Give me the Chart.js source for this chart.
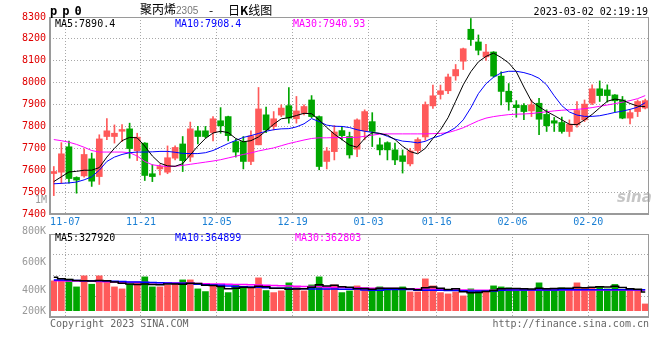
<!DOCTYPE html>
<html><head><meta charset="utf-8">
<script src="https://cdn.jsdelivr.net/npm/chart.js@4.4.0/dist/chart.umd.min.js"></script>
<style>
html,body{margin:0;padding:0;background:#fff;}
#wrap{position:relative;width:660px;height:360px;overflow:hidden;background:#fff;}
canvas{position:absolute;left:0;}
.t{position:absolute;white-space:nowrap;font-family:"DejaVu Sans Mono",monospace;font-size:10px;line-height:12px;color:#000;}
</style></head><body>
<div id="wrap">
<canvas id="pc" width="660" height="228" style="top:0"></canvas>
<canvas id="vc" width="660" height="100" style="top:226px"></canvas>
</div>
<script>
// ---------------- data ----------------
const dates = ["11-03","11-04","11-07","11-08","11-09","11-10","11-11","11-14","11-15","11-16","11-17","11-18","11-21","11-22","11-23","11-24","11-25","11-28","11-29","11-30","12-01","12-02","12-05","12-06","12-07","12-08","12-09","12-12","12-13","12-14","12-15","12-16","12-19","12-20","12-21","12-22","12-23","12-26","12-27","12-28","12-29","12-30","01-03","01-04","01-05","01-06","01-09","01-10","01-11","01-12","01-13","01-16","01-17","01-18","01-19","01-20","01-30","01-31","02-01","02-02","02-03","02-06","02-07","02-08","02-09","02-10","02-13","02-14","02-15","02-16","02-17","02-20","02-21","02-22","02-23","02-24","02-27","02-28","03-01"];
const axisLabels = ["11-07","11-21","12-05","12-19","01-03","01-16","02-06","02-20"];

const open = [7585,7591,7707,7567,7574,7652,7571,7754,7754,7778, 7789,7689,7724,7584,7606,7591,7655,7720,7660,7780, 7780,7772,7826,7845,7731,7731,7640,7716,7853,7800, 7852,7895,7835,7860,7921,7845,7640,7685,7781,7754, 7696,7780,7822,7716,7726,7693,7666,7629,7690,7752, 7894,7946,7963,8031,8098,8244,8186,8118,8140,8030, 7961,7898,7896,7871,7906,7855,7826,7818,7777,7807, 7830,7906,7972,7967,7944,7921,7838,7868,7884];
const close = [7594,7675,7562,7555,7672,7550,7743,7780,7769,7786, 7699,7751,7576,7571,7617,7657,7704,7644,7789,7754, 7754,7835,7803,7758,7683,7640,7757,7880,7784,7835, 7884,7838,7871,7891,7845,7617,7688,7775,7758,7670, 7830,7868,7777,7693,7693,7647,7640,7688,7740,7900, 7940,7963,8026,8060,8155,8197,8148,8140,8030,7960, 7912,7886,7868,7899,7833,7803,7815,7777,7810,7873, 7902,7972,7941,7941,7917,7838,7863,7914,7918];
const high = [7617,7726,7733,7570,7698,7678,7762,7836,7807,7808, 7815,7769,7726,7625,7626,7711,7711,7754,7820,7800, 7800,7845,7886,7847,7742,7754,7780,7978,7888,7868, 7899,7978,7937,7899,7941,7848,7704,7804,7800,7774, 7835,7876,7863,7747,7730,7724,7693,7700,7748,7912, 7989,7989,8039,8083,8158,8293,8218,8175,8142,8050, 7996,7918,7905,7921,7929,7876,7841,7843,7830,7914, 7921,7990,8008,7990,7946,7937,7876,7921,7925];
const low = [7484,7539,7541,7495,7568,7526,7535,7740,7724,7730, 7655,7644,7553,7548,7579,7584,7647,7594,7640,7720, 7747,7734,7769,7734,7660,7606,7625,7716,7772,7784, 7845,7815,7815,7853,7840,7602,7606,7647,7739,7655, 7662,7739,7708,7670,7647,7625,7587,7620,7680,7737, 7882,7925,7950,8011,8060,8170,8127,8102,8025,7898, 7874,7842,7831,7845,7762,7777,7777,7769,7754,7797, 7822,7899,7914,7911,7868,7835,7812,7845,7880];

const ma5 = [7548,7570,7592,7595,7600,7600,7612,7660,7700,7735, 7750,7748,7710,7665,7632,7620,7618,7630,7670,7710, 7745,7770,7778,7772,7745,7730,7735,7752,7780,7810, 7835,7840,7850,7860,7858,7830,7795,7765,7740,7715, 7705,7745,7772,7768,7760,7740,7710,7685,7675,7700, 7745,7785,7840,7915,7990,8050,8095,8120,8135,8115, 8090,8050,7980,7915,7890,7868,7850,7830,7810,7808, 7830,7855,7885,7915,7925,7920,7905,7893,7890.4];
const ma10 = [7538,7540,7542,7546,7556,7570,7600,7640,7660,7672, 7680,7683,7683,7684,7686,7686,7682,7677,7676,7676, 7680,7690,7706,7722,7736,7750,7758,7768,7778,7785, 7789,7790,7798,7812,7836,7822,7806,7801,7800,7795, 7785,7778,7773,7768,7755,7742,7733,7730,7725,7732, 7748,7758,7775,7795,7830,7885,7950,7995,8025,8045, 8052,8052,8046,8036,8020,7990,7940,7895,7866,7852, 7846,7846,7849,7856,7864,7870,7878,7888,7908.4];
const ma30 = [7740,7735,7728,7718,7705,7690,7683,7683,7683,7683, 7680,7665,7640,7625,7620,7617,7618,7622,7627,7632, 7637,7642,7648,7656,7664,7672,7679,7688,7695,7702, 7712,7722,7730,7738,7745,7748,7748,7749,7749,7750, 7750,7755,7760,7765,7766,7766,7766,7766,7766,7766, 7767,7768,7772,7782,7794,7810,7826,7838,7845,7850, 7854,7856,7857,7859,7863,7867,7871,7874,7876,7878, 7881,7886,7892,7898,7904,7911,7918,7927,7940.93];

const volume = [523000,523000,552000,417000,611000,464000,611000,523000,417000,382000, 464000,505000,593000,417000,417000,446000,470000,540000,540000,382000, 335000,435000,446000,317000,446000,411000,405000,576000,353000,317000, 347000,488000,405000,347000,452000,593000,380000,452000,317000,347000, 435000,394000,364000,417000,382000,382000,417000,329000,329000,558000, 435000,317000,294000,329000,259000,382000,347000,347000,435000,417000, 400000,347000,364000,364000,488000,364000,364000,400000,364000,488000, 400000,400000,417000,382000,460000,370000,355000,355000,118000];
const vma5 = [585000,560000,545000,530000,525000,520000,530000,525000,505000,480000, 470000,460000,470000,460000,455000,470000,470000,465000,480000,475000, 445000,440000,425000,385000,395000,410000,405000,430000,420000,395000, 395000,375000,380000,385000,410000,455000,435000,445000,420000,410000, 390000,390000,375000,395000,395000,395000,390000,380000,365000,400000, 415000,395000,370000,385000,330000,315000,320000,335000,355000,385000, 390000,390000,385000,380000,395000,385000,390000,395000,395000,405000, 400000,410000,420000,415000,430000,405000,385000,375000,327920];
const vma10 = [540000,540000,538000,530000,525000,523000,523000,520000,515000,510000, 505000,505000,500000,495000,490000,485000,480000,480000,475000,465000, 455000,450000,445000,435000,425000,420000,415000,410000,400000,395000, 392000,390000,388000,385000,380000,380000,378000,378000,376000,376000, 378000,362000,360000,358000,372000,372000,372000,370000,360000,358000, 358000,358000,355000,352000,348000,347000,347000,347000,347000,360000, 362000,364000,364000,364000,364000,364000,364000,365000,366000,366000, 366000,365000,365000,365000,365000,365000,365000,365000,364899];
const vma30 = [525000,524000,522000,520000,518000,515000,512000,508000,504000,500000, 498000,496000,494000,492000,490000,487000,484000,482000,480000,477000, 474000,470000,467000,464000,461000,458000,455000,450000,446000,442000, 438000,434000,430000,426000,422000,418000,412000,408000,405000,402000, 400000,398000,395000,392000,390000,388000,386000,384000,380000,376000, 372000,369000,366000,364000,362000,360000,359000,359000,360000,360000, 361000,361000,362000,362000,362000,362000,362000,362000,362000,362000, 362000,362000,362000,362000,362000,363000,363000,363000,362803];
const volLabels = ["800K","600K","400K","200K"];

// ---------------- styling ----------------
const RED = '#ff5a5a', GREEN = '#00a600';
const MONO = '"DejaVu Sans Mono", monospace';
const candleColor = close.map((c, i) => c >= open[i] ? RED : GREEN);
const bodies = open.map((o, i) => [o, close[i]]);
const wicks = low.map((l, i) => [l, high[i]]);
const gridColor = ctx => (ctx.index < dates.length && axisLabels.includes(dates[ctx.index])) ? '#a8a8a8' : 'rgba(0,0,0,0)';

const frame = {
  id: 'frame',
  afterDraw(chart) {
    const {ctx, chartArea: a} = chart;
    ctx.save();
    ctx.strokeStyle = '#9a9a9a';
    ctx.lineWidth = 1;
    ctx.strokeRect(a.left + 0.5, a.top + 0.5, a.right - a.left - 1, a.bottom - a.top - 1);
    ctx.lineWidth = 2;
    ctx.beginPath();
    ctx.moveTo(a.left, a.top);
    ctx.lineTo(a.left, a.bottom);
    ctx.lineTo(a.right, a.bottom);
    ctx.stroke();
    ctx.restore();
  }
};

function lineDs(data, color, extra) {
  return Object.assign({type: 'line', data, borderColor: color, borderWidth: 1, pointRadius: 0, tension: 0, order: 0}, extra || {});
}

new Chart(document.getElementById('pc'), {
  type: 'bar',
  data: {
    labels: dates,
    datasets: [
      lineDs(ma5, '#000000'),
      lineDs(ma10, '#0000ff'),
      lineDs(ma30, '#ff00ff'),
      {label: 'body', data: bodies, backgroundColor: candleColor, barThickness: 6, grouped: false, minBarLength: 1, order: 1},
      {label: 'wick', data: wicks, backgroundColor: candleColor, barThickness: 1, grouped: false, order: 2}
    ]
  },
  options: {
    responsive: false, animation: false, devicePixelRatio: 1,
    layout: {padding: {left: 0, right: 11, top: 17, bottom: 0}},
    plugins: {legend: {display: false}, tooltip: {enabled: false}},
    scales: {
      x: {
        type: 'category', offset: true,
        grid: {offset: true, color: gridColor, drawTicks: false, lineWidth: 1},
        border: {display: false, dash: [1, 2]},
        ticks: {autoSkip: false, maxRotation: 0, minRotation: 0, labelOffset: -3.79, padding: 2,
          color: '#1a7fd4', font: {family: MONO, size: 10},
          callback: (v, i) => axisLabels.includes(dates[i]) ? dates[i] : ''},
        afterFit: s => { s.height = 14; }
      },
      y: {
        min: 7400, max: 8300,
        ticks: {stepSize: 100, color: '#e00000', font: {family: MONO, size: 10}, padding: 4, callback: v => String(v)},
        grid: {color: '#a8a8a8', drawTicks: false},
        border: {display: false, dash: [1, 2]},
        afterFit: s => { s.width = 50; }
      }
    }
  },
  plugins: [frame]
});

new Chart(document.getElementById('vc'), {
  type: 'bar',
  data: {
    labels: dates,
    datasets: [
      lineDs(vma5, '#000000', {stepped: 'middle', borderWidth: 1.5}),
      lineDs(vma10, '#0000ff', {stepped: 'middle', borderWidth: 1.5}),
      lineDs(vma30, '#ff00ff', {stepped: 'middle', borderWidth: 1.5}),
      {label: 'vol', data: volume, backgroundColor: candleColor, barThickness: 6, order: 1}
    ]
  },
  options: {
    responsive: false, animation: false, devicePixelRatio: 1,
    layout: {padding: {left: 0, right: 11, top: 8, bottom: 9}},
    plugins: {legend: {display: false}, tooltip: {enabled: false}},
    scales: {
      x: {
        type: 'category', offset: true,
        grid: {offset: true, color: gridColor, drawTicks: false},
        border: {display: false, dash: [1, 2]},
        ticks: {display: false},
        afterFit: s => { s.height = 0; }
      },
      y: {
        min: -111000, max: 1345000,
        afterBuildTicks: s => { const q = (s.max - s.min) / 4; s.ticks = [0,1,2,3,4].map(k => ({value: s.min + k * q})); },
        ticks: {display: false},
        grid: {color: '#a8a8a8', drawTicks: false},
        border: {display: false, dash: [1, 2]},
        afterFit: s => { s.width = 50; }
      }
    }
  },
  plugins: [frame]
});

// ---------------- text ----------------
const wrap = document.getElementById('wrap');
function txt(s, x, y, o) {
  o = o || {};
  const d = document.createElement('div');
  d.className = 't';
  if (o.html) d.innerHTML = s; else d.textContent = s;
  d.style.left = x + 'px';
  d.style.top = y + 'px';
  d.style.transform = o.align === 'right' ? 'translate(-100%,-50%)' : 'translateY(-50%)';
  if (o.color) d.style.color = o.color;
  if (o.font) d.style.fontFamily = o.font;
  if (o.size) d.style.fontSize = o.size + 'px';
  if (o.weight) d.style.fontWeight = o.weight;
  if (o.ls) d.style.letterSpacing = o.ls + 'px';
  if (o.fstyle) d.style.fontStyle = o.fstyle;
  wrap.appendChild(d);
  return d;
}
const last = a => a[a.length - 1];
txt('pp0', 50, 11, {weight: 'bold', size: 12, ls: 5});
txt('聚丙烯<span style="font-family:\'Liberation Sans\';font-size:10px;color:#777">2305</span>', 140, 10, {html: true, font: '"Noto Sans CJK SC"', size: 12});
txt('-', 209, 10, {font: '"Noto Sans CJK SC"', size: 12});
txt('日<b>K</b>线图', 228, 10, {html: true, font: '"Noto Sans CJK SC"', size: 12});
txt('2023-03-02 02:19:19', 648, 12, {align: 'right'});
txt('MA5:' + last(ma5), 55, 24);
txt('MA10:' + last(ma10), 175, 24, {color: '#0000ff'});
txt('MA30:' + last(ma30), 293, 24, {color: '#ff00ff'});
txt('1M', 47, 200, {align: 'right', color: '#999'});
txt('sina', 617, 197, {font: '"DejaVu Sans"', size: 15, weight: 'bold', fstyle: 'italic', color: 'rgba(150,150,150,0.55)'});
txt('MA5:' + last(vma5), 55, 238);
txt('MA10:' + last(vma10), 175, 238, {color: '#0000ff'});
txt('MA30:' + last(vma30), 295, 238, {color: '#ff00ff'});
[230.7, 261.7, 290, 310.7].forEach((y, k) => txt(volLabels[k], 46, y, {align: 'right', color: '#999'}));
txt('Copyright 2023 SINA.COM', 50, 324, {color: '#666'});
txt('http://finance.sina.com.cn', 649, 324, {align: 'right', color: '#666'});
</script>
</body></html>
